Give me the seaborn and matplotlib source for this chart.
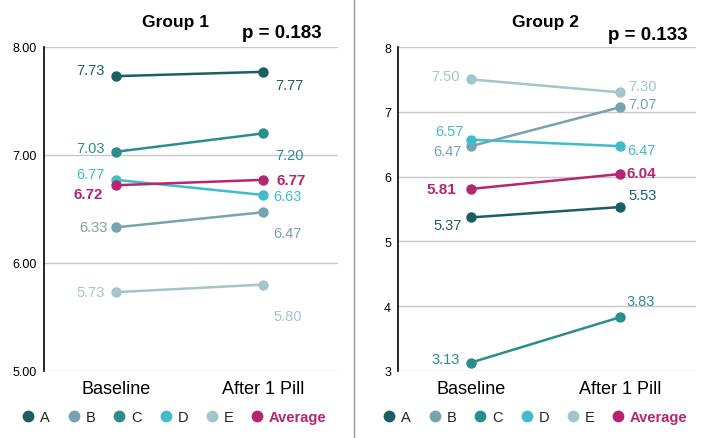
import matplotlib
matplotlib.use("Agg")
import matplotlib.pyplot as plt
from matplotlib.lines import Line2D
from matplotlib.ticker import FixedLocator, FormatStrFormatter
import seaborn as sns
import pandas as pd

# ---------------- data ----------------
times = ["Baseline", "After 1 Pill"]
series = ["A", "B", "C", "D", "E", "Average"]
group1_A = [7.73, 7.77]
group1_B = [6.33, 6.47]
group1_C = [7.03, 7.20]
group1_D = [6.77, 6.63]
group1_E = [5.73, 5.80]
group1_avg = [6.72, 6.77]
group2_A = [5.37, 5.53]
group2_B = [6.47, 7.07]
group2_C = [3.13, 3.83]
group2_D = [6.57, 6.47]
group2_E = [7.50, 7.30]
group2_avg = [5.81, 6.04]
group_titles = ["Group 1", "Group 2"]
p_labels = ["p = 0.183", "p = 0.133"]
group1_ticks = [5, 6, 7, 8]
group2_ticks = [3, 4, 5, 6, 7, 8]

groups = [
    {"A": group1_A, "B": group1_B, "C": group1_C, "D": group1_D, "E": group1_E, "Average": group1_avg},
    {"A": group2_A, "B": group2_B, "C": group2_C, "D": group2_D, "E": group2_E, "Average": group2_avg},
]

# ---------------- style ----------------
sns.set_theme(style="white")
plt.rcParams["font.family"] = ["Liberation Sans", "DejaVu Sans"]

colors = {"A": "#1b5f63", "B": "#78a2ad", "C": "#2a8d8e", "D": "#40bccb",
          "E": "#a3c6cb", "Average": "#b5266e"}

# label offsets in pixels (dx, dy up-positive) for baseline / after points
offs = [
    {"A": [(-11, 6), (12, -13)], "B": [(-8, 0), (10, -21)], "C": [(-11, 4), (12, -22)],
     "D": [(-11, 6), (10, -1)], "E": [(-11, 0), (10, -31)], "Average": [(-13, -9), (13, 0)]},
    {"A": [(-9, -8), (8, 12)], "B": [(-9, -5), (8, 3)], "C": [(-11, 4), (6, 16)],
     "D": [(-7, 9), (7, -4)], "E": [(-11, 3), (8, 6)], "Average": [(-15, 0), (6, 1)]},
]

fig = plt.figure(figsize=(7.04, 4.39), dpi=100)
axes_rects = [[44 / 704, 1 - 372 / 439, 294 / 704, 324 / 439],
              [398 / 704, 1 - 372 / 439, 298 / 704, 324 / 439]]
ylims = [(5, 8), (3, 8)]
ticks = [group1_ticks, group2_ticks]
fmts = ["%.2f", "%d"]
title_x = [175, 545]
p_x = [322, 687]
p_y = [33, 35]
legend_cx = [175, 536]

px2pt = 0.72

for gi, g in enumerate(groups):
    ax = fig.add_axes(axes_rects[gi])
    rows = []
    for s in series:
        for t, v in zip(times, g[s]):
            rows.append({"time": t, "value": v, "series": s})
    df = pd.DataFrame(rows)
    sns.lineplot(data=df, x="time", y="value", hue="series", hue_order=series,
                 palette=colors, marker="o", markersize=7.5, markeredgewidth=0,
                 linewidth=1.8, legend=False, ax=ax, sort=False)
    ax.set_xlim(-0.49, 1.51)
    ax.set_ylim(*ylims[gi])
    ax.yaxis.set_major_locator(FixedLocator(ticks[gi]))
    ax.yaxis.set_major_formatter(FormatStrFormatter(fmts[gi]))
    ax.grid(axis="y", color="#c8c8c8", linewidth=1)
    ax.grid(axis="x", visible=False)
    for side in ["top", "right", "bottom"]:
        ax.spines[side].set_visible(False)
    ax.spines["left"].set_color("black")
    ax.spines["left"].set_linewidth(1.2)
    ax.set_xlabel("")
    ax.set_ylabel("")
    ax.tick_params(axis="y", length=0, pad=5, labelsize=9, labelcolor="black")
    ax.tick_params(axis="x", length=0, pad=6.5, labelsize=13, labelcolor="black")

    # data labels
    for s in series:
        for i, v in enumerate(g[s]):
            dx, dy = offs[gi][s][i]
            ax.annotate(f"{v:.2f}", xy=(i, v), xytext=(dx * px2pt, dy * px2pt),
                        textcoords="offset points",
                        ha="right" if i == 0 else "left", va="center",
                        color=colors[s], fontsize=11 if s == "Average" else 10.5,
                        fontweight="bold" if s == "Average" else "normal")

    fig.text(title_x[gi] / 704, 1 - 22 / 439, group_titles[gi], ha="center", va="center",
             fontsize=12.5, fontweight="bold", color="black")
    fig.text(p_x[gi] / 704, 1 - p_y[gi] / 439, p_labels[gi], ha="right", va="center",
             fontsize=13.5, fontweight="bold", color="black")

    handles = [Line2D([], [], marker="o", linestyle="", color=colors[s],
                      markersize=8.5, markeredgewidth=0) for s in series]
    leg = ax.legend(handles, series, loc="center", ncol=6, frameon=False,
                    bbox_to_anchor=(legend_cx[gi] / 704, 1 - 418 / 439),
                    bbox_transform=fig.transFigure, handlelength=0.7,
                    handletextpad=0.45, columnspacing=1.3, fontsize=10.5)
    for txt, s in zip(leg.get_texts(), series):
        if s == "Average":
            txt.set_color(colors[s])
            txt.set_fontweight("bold")
        else:
            txt.set_color("#222222")

fig.add_artist(Line2D([354 / 704, 354 / 704], [0, 1], transform=fig.transFigure,
                      color="#9a9a9a", linewidth=1))

fig.savefig("out.png", dpi=100, facecolor="white")
